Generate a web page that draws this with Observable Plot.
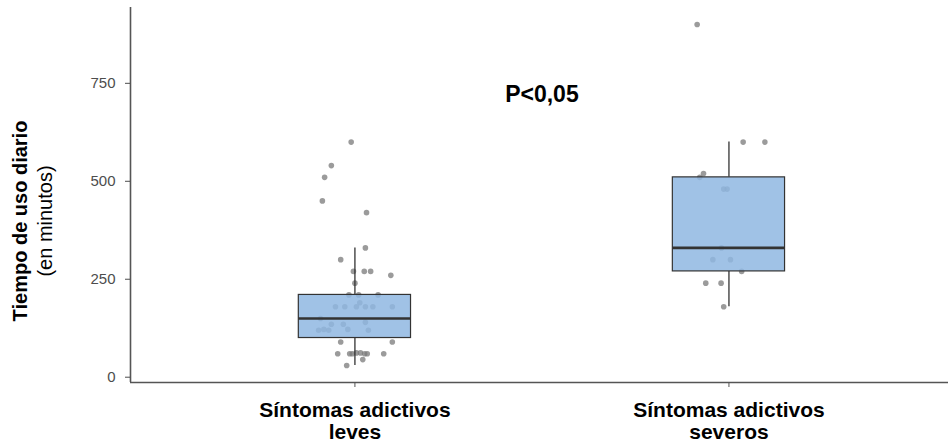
<!DOCTYPE html>
<html>
<head>
<meta charset="utf-8">
<script src="https://cdn.jsdelivr.net/npm/d3@7"></script>
<script src="https://cdn.jsdelivr.net/npm/@observablehq/plot@0.6"></script>
<style>
  body { margin: 0; background: #fff; }
  #chart svg { display: block; }
</style>
</head>
<body>
<div id="chart"></div>
<script>
// ---- data ----
const categories = ["Síntomas adictivos\nleves", "Síntomas adictivos\nseveros"];
const groupPos = [1, 2];
const boxQ1 = [100, 270];
const boxMedian = [150, 330];
const boxQ3 = [210, 510];
const whiskerLow = [30, 180];
const whiskerHigh = [330, 600];
const yTicks = [0, 250, 500, 750];

// jittered observations (x = jittered group position, y = minutes)
const leveX = [0.99, 0.937, 0.919, 0.913, 1.031, 1.028, 0.962, 0.996, 1.025, 1.042, 1.096, 1.0,
  0.984, 1.01, 1.062, 1.013, 0.948, 0.973, 1.004, 1.028, 1.048, 1.1, 0.908, 0.937, 0.969, 1.028,
  0.903, 0.917, 0.93, 0.981, 1.036, 0.962, 1.1, 0.954, 0.986, 0.993, 1.004, 1.015, 1.026, 1.033,
  1.077, 1.021, 0.978];
const leveY = [600, 540, 510, 450, 420, 330, 300, 270, 270, 270, 260, 240,
  210, 210, 210, 190, 180, 180, 180, 180, 180, 180, 150, 135, 135, 140,
  120, 122, 120, 122, 120, 90, 90, 60, 60, 60, 62, 62, 60, 60,
  60, 45, 30];
const severoX = [1.915, 2.038, 2.096, 1.932, 1.922, 1.986, 1.995, 1.98, 1.957, 2.004, 2.034, 1.938, 1.979, 1.986];
const severoY = [900, 600, 600, 520, 510, 480, 480, 330, 300, 300, 270, 240, 240, 180];

const pLabel = "P<0,05";
const pX = 1.5;
const pY = 720;

const yTitle = "Tiempo de uso diario";
const ySubtitle = "(en minutos)";

// ---- tables built from the arrays ----
const points = [
  ...leveX.map((x, i) => ({x, y: leveY[i]})),
  ...severoX.map((x, i) => ({x, y: severoY[i]}))
];
const boxes = groupPos.map((p, i) => ({
  p, q1: boxQ1[i], med: boxMedian[i], q3: boxQ3[i], lo: whiskerLow[i], hi: whiskerHigh[i]
}));
const halfWidth = 0.15;
const ink = "#333333";
const axisInk = "#555555";

const chart = Plot.plot({
  width: 948,
  height: 443,
  marginLeft: 130,
  marginRight: 0,
  marginTop: 7,
  marginBottom: 61,
  style: {fontFamily: "'Liberation Sans', Arial, sans-serif", background: "#fff"},
  x: {domain: [0.4, 2.587], axis: null},
  y: {domain: [-13.5, 943.5], axis: null},
  marks: [
    Plot.dot(points, {x: "x", y: "y", r: 2.8, fill: "#7a7a7a", fillOpacity: 0.75, stroke: "none"}),
    Plot.ruleX(boxes, {x: "p", y1: "lo", y2: "q1", stroke: ink, strokeWidth: 1.3}),
    Plot.ruleX(boxes, {x: "p", y1: "q3", y2: "hi", stroke: ink, strokeWidth: 1.3}),
    Plot.rect(boxes, {x1: d => d.p - halfWidth, x2: d => d.p + halfWidth, y1: "q1", y2: "q3",
      fill: "#8fb7e2", fillOpacity: 0.85, stroke: ink, strokeWidth: 1.2}),
    Plot.ruleY(boxes, {y: "med", x1: d => d.p - halfWidth, x2: d => d.p + halfWidth, stroke: ink, strokeWidth: 2.6}),
    Plot.ruleX([0.4], {stroke: axisInk, strokeWidth: 1.6}),
    Plot.ruleY([-13.5], {stroke: axisInk, strokeWidth: 1.6}),
    Plot.axisY({ticks: yTicks, tickSize: 5, tickPadding: 10, fontSize: 15, color: "#4d4d4d", tickFormat: d => String(d)}),
    Plot.axisX({ticks: groupPos, tickSize: 5, tickPadding: 13, fontSize: 21, fontWeight: "bold",
      lineHeight: 1.08, color: "#000", stroke: axisInk,
      tickFormat: d => categories[groupPos.indexOf(d)]}),
    Plot.text([pLabel], {x: pX, y: pY, text: d => d, fontSize: 23, fontWeight: "bold", fill: "#000"}),
    Plot.text([yTitle], {frameAnchor: "left", textAnchor: "middle", dx: -110, dy: 26, rotate: -90, text: d => d,
      fontSize: 20, fontWeight: "bold", fill: "#000"}),
    Plot.text([ySubtitle], {frameAnchor: "left", textAnchor: "middle", dx: -85, dy: 26, rotate: -90, text: d => d,
      fontSize: 20, fill: "#000"})
  ]
});
document.getElementById("chart").appendChild(chart);
</script>
</body>
</html>
